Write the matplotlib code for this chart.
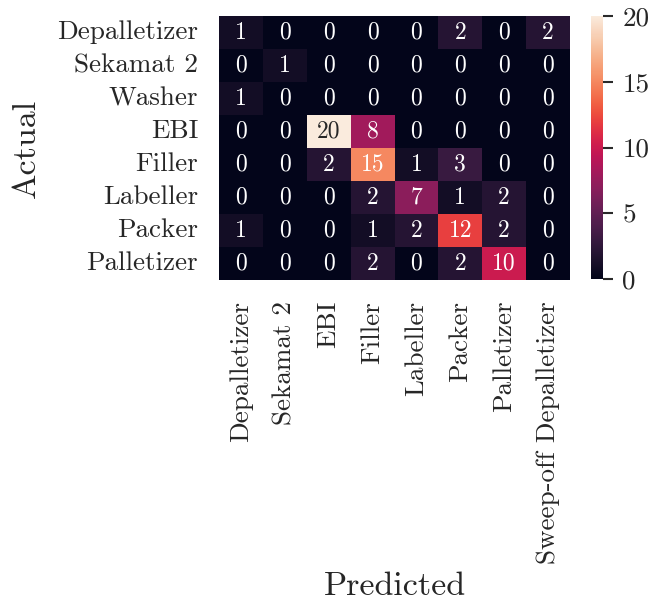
import matplotlib
matplotlib.use("Agg")
import matplotlib.pyplot as plt
import seaborn as sns
import numpy as np
import pandas as pd

actual = ["Depalletizer", "Sekamat 2", "Washer", "EBI", "Filler", "Labeller", "Packer", "Palletizer"]
predicted = ["Depalletizer", "Sekamat 2", "EBI", "Filler", "Labeller", "Packer", "Palletizer", "Sweep-off Depalletizer"]
counts = [
    [1, 0, 0, 0, 0, 2, 0, 2],
    [0, 1, 0, 0, 0, 0, 0, 0],
    [1, 0, 0, 0, 0, 0, 0, 0],
    [0, 0, 20, 8, 0, 0, 0, 0],
    [0, 0, 2, 15, 1, 3, 0, 0],
    [0, 0, 0, 2, 7, 1, 2, 0],
    [1, 0, 0, 1, 2, 12, 2, 0],
    [0, 0, 0, 2, 0, 2, 10, 0],
]
cbar_ticks = [0, 5, 10, 15, 20]

sns.set_theme(style="ticks")
plt.rcParams['font.family'] = ['cmr10', 'DejaVu Serif']
plt.rcParams['axes.unicode_minus'] = False
plt.rcParams['mathtext.fontset'] = 'cm'

df = pd.DataFrame(counts, index=actual, columns=predicted)

W, H = 654, 604
fig = plt.figure(figsize=(W / 100, H / 100), dpi=100)
ax = fig.add_axes([219 / W, 1 - 280 / H, (570 - 219) / W, (280 - 16) / H])
cax = fig.add_axes([591 / W, 1 - 279 / H, 12 / W, (279 - 16) / H])

sns.heatmap(df, ax=ax, cbar_ax=cax, cmap="rocket", annot=True, fmt="d",
            annot_kws={"fontsize": 17}, vmin=0, vmax=20,
            cbar_kws={"ticks": cbar_ticks})

ax.tick_params(axis="both", length=0, labelsize=19.5, pad=15)
ax.set_xticklabels(predicted, rotation=90)
ax.set_yticklabels(actual, rotation=0)
ax.set_xlabel("Predicted", fontsize=24.5, labelpad=6)
ax.set_ylabel("Actual", fontsize=24.5, labelpad=12)

cax.tick_params(labelsize=19.5, length=7, width=1.5, color="#2a2a2a", pad=7)
cax.set_yticklabels([str(t) for t in cbar_ticks])
for s in cax.spines.values():
    s.set_visible(False)

fig.savefig("out.png", dpi=100)
